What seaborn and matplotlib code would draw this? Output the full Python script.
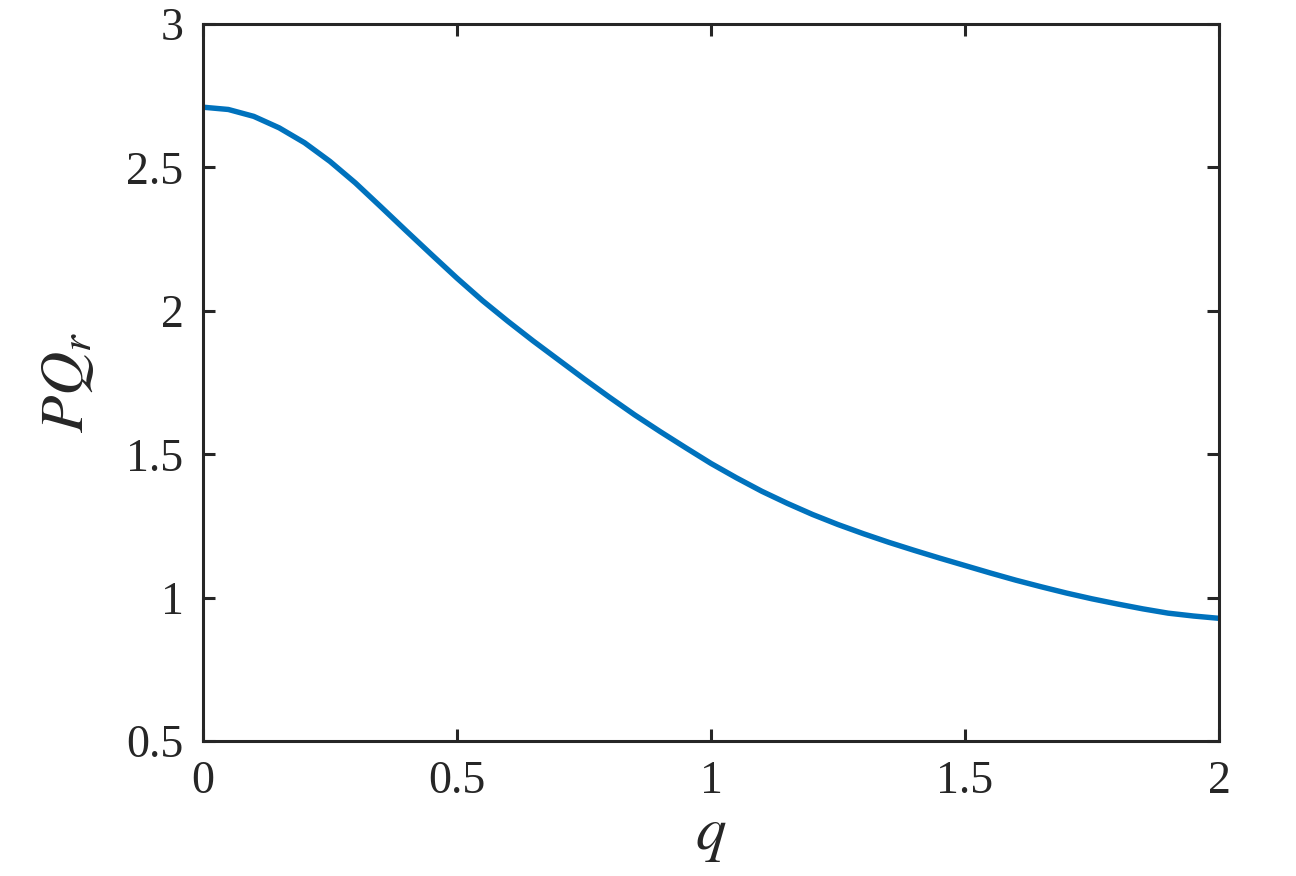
import pandas as pd
import matplotlib.pyplot as plt
import seaborn as sns

# --- DATA ---
q_values = [0.0, 0.05, 0.1, 0.15, 0.2, 0.25, 0.3, 0.35, 0.4, 0.45, 0.5, 0.55, 0.6, 0.65,
            0.7, 0.75, 0.8, 0.85, 0.9, 0.95, 1.0, 1.05, 1.1, 1.15, 1.2, 1.25, 1.3, 1.35,
            1.4, 1.45, 1.5, 1.55, 1.6, 1.65, 1.7, 1.75, 1.8, 1.85, 1.9, 1.95, 2.0]
pq_values = [2.710, 2.702, 2.678, 2.638, 2.586, 2.521, 2.446, 2.363, 2.279, 2.196, 2.114,
             2.036, 1.964, 1.895, 1.829, 1.763, 1.699, 1.637, 1.579, 1.523, 1.468, 1.418,
             1.371, 1.329, 1.290, 1.255, 1.223, 1.193, 1.165, 1.138, 1.112, 1.086, 1.061,
             1.038, 1.016, 0.996, 0.978, 0.961, 0.946, 0.936, 0.928]

x_ticks = [0, 0.5, 1, 1.5, 2]
x_tick_labels = ["0", "0.5", "1", "1.5", "2"]
y_ticks = [0.5, 1, 1.5, 2, 2.5, 3]
y_tick_labels = ["0.5", "1", "1.5", "2", "2.5", "3"]

df = pd.DataFrame({"q": q_values, "PQr": pq_values})

# --- STYLE ---
sns.set_theme(style="ticks")
plt.rcParams["font.family"] = ["Liberation Serif", "DejaVu Serif"]
plt.rcParams["mathtext.fontset"] = "stix"

fig = plt.figure(figsize=(12.96, 8.76), dpi=100)
ax = fig.add_axes([0.1566, 0.154, 0.784, 0.8186])

sns.lineplot(data=df, x="q", y="PQr", ax=ax, color="#0072BD", linewidth=3.9,
             solid_joinstyle="round", solid_capstyle="butt")

ax.set_xlim(0, 2)
ax.set_ylim(0.5, 3)
ax.set_xticks(x_ticks)
ax.set_xticklabels(x_tick_labels)
ax.set_yticks(y_ticks)
ax.set_yticklabels(y_tick_labels)

for side in ["top", "right", "bottom", "left"]:
    ax.spines[side].set_visible(True)
    ax.spines[side].set_linewidth(2.2)
    ax.spines[side].set_color("#262626")

ax.tick_params(axis="both", which="major", direction="in", length=8.5, width=2.2,
               color="#262626", labelsize=33, labelcolor="#262626",
               top=True, right=True, pad=14)

ax.set_xlabel(r"$q$", fontsize=44, color="#262626", labelpad=4)
ax.set_ylabel(r"$PQ_r$", fontsize=44, color="#262626", labelpad=22)

fig.savefig("out.png", dpi=100)
plt.close()
